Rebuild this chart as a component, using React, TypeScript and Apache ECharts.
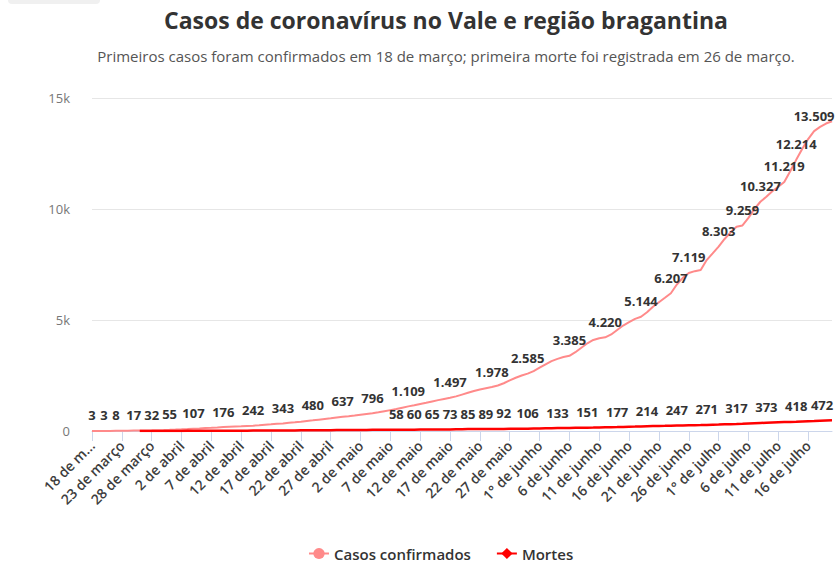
import React, { useEffect, useRef } from "react";
import * as echarts from "echarts";

const MONTHS = ["março", "abril", "maio", "junho", "julho"];
const MONTH_DAYS = [31, 30, 31, 30, 31];
const START_DAY = 18;
const N_DAYS = 125;

// daily categories, 18 de março .. 20 de julho
const categories: string[] = (() => {
  const out: string[] = [];
  let m = 0;
  let d = START_DAY;
  for (let i = 0; i < N_DAYS; i++) {
    out.push(`${d === 1 ? "1°" : d} de ${MONTHS[m]}`);
    d++;
    if (d > MONTH_DAYS[m]) {
      d = 1;
      m++;
    }
  }
  return out;
})();

const casos: number[] = [
  3, 3, 3, 5, 8, 10, 13, 17, 21, 26,
  32, 39, 46, 55, 66, 78, 92, 107, 118, 132,
  145, 160, 176, 188, 200, 212, 228, 242, 260, 281,
  300, 322, 343, 368, 392, 420, 452, 480, 510, 540,
  570, 605, 637, 668, 700, 735, 766, 796, 840, 890,
  940, 990, 1050, 1109, 1160, 1215, 1270, 1330, 1390, 1445,
  1497, 1560, 1640, 1720, 1800, 1870, 1930, 1978, 2050, 2150,
  2280, 2400, 2500, 2585, 2700, 2850, 3000, 3150, 3250, 3330,
  3385, 3550, 3750, 3950, 4100, 4180, 4220, 4350, 4550, 4750,
  4900, 5050, 5144, 5350, 5600, 5800, 6000, 6207, 6600, 6900,
  7119, 7200, 7250, 7700, 8000, 8303, 8650, 8950, 9200, 9259,
  9600, 10000, 10327, 10550, 10800, 11000, 11219, 11700, 12214, 12700,
  13150, 13509, 13700, 13850, 13950,
];

const mortes: (number | null)[] = [
  null, null, null, null, null, null, null, null, 1, 1,
  2, 2, 3, 3, 4, 5, 6, 7, 8, 9,
  10, 11, 12, 13, 14, 15, 16, 18, 19, 20,
  22, 23, 25, 26, 28, 30, 31, 33, 35, 36,
  38, 40, 41, 43, 45, 47, 49, 51, 53, 55,
  56, 58, 59, 59, 60, 62, 63, 65, 68, 70,
  73, 77, 81, 85, 86, 88, 89, 90, 91, 92,
  96, 99, 103, 106, 112, 117, 123, 128, 133, 137,
  140, 144, 147, 151, 156, 162, 167, 172, 177, 185,
  192, 199, 207, 214, 221, 228, 234, 241, 247, 252,
  257, 262, 266, 271, 280, 289, 299, 308, 317, 328,
  340, 351, 362, 373, 382, 391, 400, 409, 418, 429,
  440, 450, 461, 472, 480,
];

// days whose value label is visible
const casosLabelIdx = [0, 2, 4, 7, 10, 13, 17, 22, 27, 32, 37, 42, 47, 53, 60, 67, 73, 80, 86, 92, 97, 100, 105, 109, 112, 116, 118, 121];
const mortesLabelIdx = [51, 54, 57, 60, 63, 66, 69, 73, 78, 83, 88, 93, 98, 103, 108, 113, 118, 123];

const yTicks = ["0", "5k", "10k", "15k"];

const TITLE = "Casos de coronavírus no Vale e região bragantina";
const SUBTITLE = "Primeiros casos foram confirmados em 18 de março; primeira morte foi registrada em 26 de março.";

const FONT = "'Open Sans', 'Noto Sans', sans-serif";

const fmt = (v: number) =>
  v >= 1000 ? `${Math.floor(v / 1000)}.${String(v % 1000).padStart(3, "0")}` : String(v);

// labels near the right edge are pushed inside the plot, as in the reference
const labelItem = (v: number | null, i: number, idx: number[]) => {
  if (!idx.includes(i)) return v;
  const isLastNearEdge = i >= N_DAYS - 3;
  return { value: v, label: isLastNearEdge ? { show: true, offset: [-4, 0] } : { show: true } };
};

export default function App() {
  const ref = useRef<HTMLDivElement>(null);
  useEffect(() => {
    document.body.style.margin = "0";
    if (!ref.current) return;
    const chart = echarts.init(ref.current, undefined, { renderer: "svg" });
    const labelStyle = {
      show: false,
      position: "top",
      distance: 9,
      fontFamily: FONT,
      fontSize: 13,
      fontWeight: "bold",
      color: "#333333",
      formatter: (p: any) => fmt(p.value),
    };
    chart.setOption({
      animation: false,
      textStyle: { fontFamily: FONT },
      title: [
        {
          text: TITLE,
          left: 441,
          top: 3,
          textAlign: "center",
          textStyle: { fontFamily: FONT, fontSize: 23, fontWeight: "bold", color: "#333333" },
        },
        {
          text: SUBTITLE,
          left: 441,
          top: 43,
          textAlign: "center",
          textStyle: { fontFamily: FONT, fontSize: 15, fontWeight: "normal", color: "#555555" },
        },
      ],
      graphic: [
        {
          type: "rect",
          shape: { x: 8, y: -6, width: 92, height: 10, r: 4 },
          style: { fill: "#f0f0f0" },
          silent: true,
        },
      ],
      legend: {
        left: 303,
        top: 541,
        itemWidth: 20,
        itemHeight: 14,
        itemGap: 25,
        textStyle: { fontFamily: FONT, fontSize: 15, fontWeight: 600, color: "#333333" },
        data: ["Casos confirmados", "Mortes"],
      },
      grid: { left: 92, right: 3, top: 98, bottom: 131, outerBoundsMode: "none" },
      xAxis: {
        type: "category",
        data: categories,
        boundaryGap: false,
        axisLine: { lineStyle: { color: "#ccd6eb", width: 1 } },
        axisTick: { interval: 4, length: 10, lineStyle: { color: "#ccd6eb" } },
        axisLabel: {
          interval: 4,
          rotate: 45,
          margin: 12,
          fontFamily: FONT,
          fontSize: 14,
          fontWeight: 600,
          color: "#3d3d3d",
          formatter: (v: string, i: number) => (i === 0 ? "18 de m..." : v),
        },
        splitLine: { show: false },
      },
      yAxis: {
        type: "value",
        min: 0,
        max: 15000,
        interval: 5000,
        axisLine: { show: false },
        axisTick: { show: false },
        axisLabel: {
          margin: 22,
          fontFamily: FONT,
          fontSize: 13,
          color: "#777777",
          formatter: (v: number) => yTicks[Math.round(v / 5000)],
        },
        splitLine: { lineStyle: { color: "#e6e6e6", width: 1 } },
      },
      series: [
        {
          name: "Casos confirmados",
          type: "line",
          data: casos.map((v, i) => labelItem(v, i, casosLabelIdx)),
          symbol: "circle",
          symbolSize: 0,
          showSymbol: true,
          showAllSymbol: true,
          color: "#ff8a8a",
          lineStyle: { color: "#ff8a8a", width: 2 },
          itemStyle: { color: "#ff8a8a" },
          label: labelStyle,
          emphasis: { disabled: true },
          z: 2,
        },
        {
          name: "Mortes",
          type: "line",
          data: mortes.map((v, i) => labelItem(v, i, mortesLabelIdx)),
          symbol: "diamond",
          symbolSize: 0,
          showSymbol: true,
          showAllSymbol: true,
          color: "#ff0000",
          lineStyle: { color: "#ff0000", width: 2.5 },
          itemStyle: { color: "#ff0000" },
          label: labelStyle,
          emphasis: { disabled: true },
          z: 3,
        },
      ],
    });
    return () => chart.dispose();
  }, []);
  return <div ref={ref} style={{ width: 835, height: 562 }} />;
}
